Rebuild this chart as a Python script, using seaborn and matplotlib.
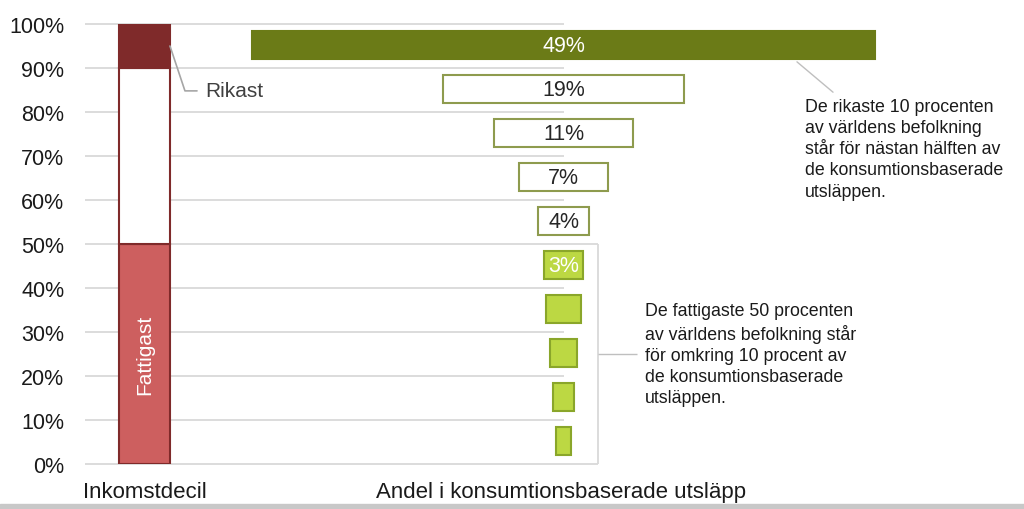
import matplotlib
matplotlib.use("Agg")
import matplotlib.pyplot as plt
import seaborn as sns

# income deciles (1 = poorest, 10 = richest) and their share of consumption based emissions
deciles = list(range(1, 11))
emission_share = [1.2, 1.6, 2.1, 2.7, 3, 4, 7, 11, 19, 49]
share_labels = ["", "", "", "", "3%", "4%", "7%", "11%", "19%", "49%"]

# stacked income bar on the left
income_bounds = [0, 50, 90, 100]
income_labels = ["Fattigast", "", "Rikast"]

yticks = list(range(0, 101, 10))
ytick_labels = [f"{t}%" for t in yticks]

note_rich = ("De rikaste 10 procenten\nav världens befolkning\n"
             "står för nästan hälften av\nde konsumtionsbaserade\nutsläppen.")
note_poor = ("De fattigaste 50 procenten\nav världens befolkning står\n"
             "för omkring 10 procent av\nde konsumtionsbaserade\nutsläppen.")

sns.set_theme(style="white")
plt.rcParams["font.family"] = ["Liberation Sans", "DejaVu Sans"]

fig = plt.figure(figsize=(10.24, 5.10), dpi=100)
ax = fig.add_axes([85 / 1024, 45 / 510, 939 / 1024, 440 / 510])
ax.set_xlim(0, 939 / 12.7)
ax.set_ylim(0, 100)

center = 37.68      # funnel centre line
bar_x = 4.69        # income bar
bracket_x = 40.4
grid_col = "#D9D9D9"

# gridlines stop at the funnel centre
for t in yticks:
    end = bracket_x if t in (0, 50) else center
    ax.hlines(t, 0, end, color=grid_col, lw=1.3, zorder=0, clip_on=False)
ax.vlines(bracket_x, 0, 50, color=grid_col, lw=1.3, zorder=0)
ax.hlines(25, bracket_x, 43.5, color="#BFBFBF", lw=1.0)

# income bar
seg_fill = ["#CD5F5F", "white", "#7F2A2A"]
for lo, hi, fc in zip(income_bounds[:-1], income_bounds[1:], seg_fill):
    ax.bar(bar_x, hi - lo, bottom=lo, width=4.0, color=fc,
           edgecolor="#7F2A2A", lw=1.5, zorder=2)
ax.text(bar_x, 25, income_labels[0], rotation=90, ha="center", va="center",
        color="white", fontsize=15, zorder=3)
ax.plot([6.69, 7.87, 8.82], [95, 84.8, 84.8], color="#A6A6A6", lw=1.2)
ax.text(9.45, 84.8, income_labels[2], ha="left", va="center",
        color="#404040", fontsize=15)

# funnel bars
for d, w, lab in zip(deciles, emission_share, share_labels):
    y = (d - 0.5) * 10 + 0.2
    if d == 10:
        fc, ec, tc = "#6B7B17", "#6B7B17", "white"
    elif d >= 6:
        fc, ec, tc = "white", "#8E9B4E", "#262626"
    else:
        fc, ec, tc = "#BCD843", "#8AA62A", "white"
    ax.barh(y, w, left=center - w / 2, height=6.5, color=fc, edgecolor=ec,
            lw=1.5, zorder=2)
    if lab:
        ax.text(center, y, lab, ha="center", va="center", color=tc,
                fontsize=15.5, zorder=3)

ax.plot([56.06, 58.9], [91.4, 84.5], color="#BFBFBF", lw=1.0)
ax.text(56.7, 83.2, note_rich, ha="left", va="top", fontsize=12.8,
        color="#1A1A1A", linespacing=1.32)
ax.text(44.1, 36.8, note_poor, ha="left", va="top", fontsize=12.8,
        color="#1A1A1A", linespacing=1.32)

ax.set_yticks(yticks)
ax.set_yticklabels(ytick_labels, fontsize=15.5, color="#1A1A1A")
ax.set_xticks([])
ax.tick_params(axis="y", length=0, pad=15)
sns.despine(ax=ax, left=True, bottom=True)
ax.grid(False)

fig.text(145 / 1024, 1 - 493 / 510, "Inkomstdecil", ha="center", va="center",
         fontsize=16, color="#1A1A1A")
fig.text(561 / 1024, 1 - 493 / 510, "Andel i konsumtionsbaserade utsläpp",
         ha="center", va="center", fontsize=16, color="#1A1A1A")
fig.patches.append(plt.Rectangle((0, 0), 1, 5 / 510, transform=fig.transFigure,
                                 color="#C8C8C8", zorder=0))

fig.savefig("out.png", dpi=100)
